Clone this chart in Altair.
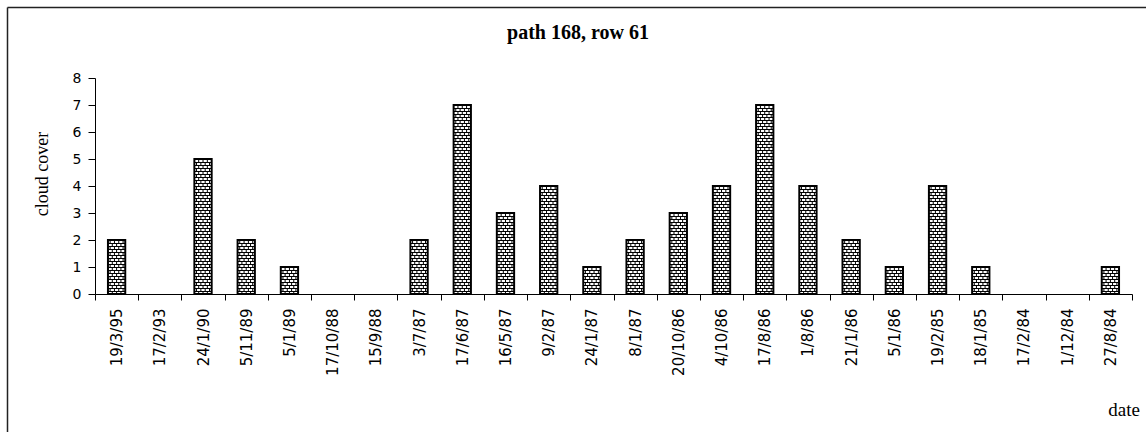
import altair as alt
import pandas as pd

dates = ["19/3/95", "17/2/93", "24/1/90", "5/11/89", "5/1/89", "17/10/88",
         "15/9/88", "3/7/87", "17/6/87", "16/5/87", "9/2/87", "24/1/87",
         "8/1/87", "20/10/86", "4/10/86", "17/8/86", "1/8/86", "21/1/86",
         "5/1/86", "19/2/85", "18/1/85", "17/2/84", "1/12/84", "27/8/84"]
cover = [2, 0, 5, 2, 1, 0, 0, 2, 7, 3, 4, 1, 2, 3, 4, 7, 4, 2, 1, 4, 1, 0, 0, 1]
y_ticks = [0, 1, 2, 3, 4, 5, 6, 7, 8]

title_text = "path 168, row 61"
y_title = "cloud cover"
x_title = "date"

df = pd.DataFrame({"date": dates, "cover": cover})

W, H = 1037, 216
BAR = 0.4            # bar width as a fraction of the category band
ROWS = 9             # brick rows per unit of cloud cover
JOINT = 0.1          # brick length as a fraction of the category band

# brick-pattern texture built from the values (rows and joints inside each bar)
h_rows, v_rows = [], []
for i, v in enumerate(cover):
    left = i + (1 - BAR) / 2
    right = i + (1 + BAR) / 2
    for k in range(v * ROWS):
        y0 = k / ROWS
        y1 = (k + 1) / ROWS
        if k > 0:
            h_rows.append({"x": left, "x2": right, "y": y0})
        off = JOINT / 2 if k % 2 else JOINT
        pos = left + off
        while pos < right - 0.02:
            v_rows.append({"x": pos, "y": y0, "y2": y1})
            pos += JOINT
h_df = pd.DataFrame(h_rows)
v_df = pd.DataFrame(v_rows)

band_scale = alt.Scale(domain=dates, paddingInner=0, paddingOuter=0)
y_scale = alt.Scale(domain=[0, 8], nice=False)
xq = alt.Scale(domain=[0, len(dates)], nice=False, zero=False)

x_axis = alt.Axis(
    title=None, labelAngle=270, tickBand="extent",
    labelFont="DejaVu Sans", labelFontSize=15, labelColor="black",
    labelPadding=8, tickSize=6, tickColor="black", domainColor="black",
    tickWidth=1, domainWidth=1, labelOverlap=False, grid=False,
)
y_axis = alt.Axis(
    title=None, values=y_ticks, format="d",
    labelFont="DejaVu Sans", labelFontSize=14, labelColor="black",
    labelPadding=7, tickSize=7, tickColor="black", domainColor="black",
    tickWidth=1, domainWidth=1, grid=False,
)

nonzero = alt.datum.cover > 0
bars_fill = alt.Chart(df).transform_filter(nonzero).mark_bar(
    width=alt.RelativeBandSize(BAR), fill="white", strokeWidth=0
).encode(
    x=alt.X("date:N", sort=dates, scale=band_scale, axis=x_axis),
    y=alt.Y("cover:Q", scale=y_scale, axis=y_axis),
)

bars_edge = alt.Chart(df).transform_filter(nonzero).mark_bar(
    width=alt.RelativeBandSize(BAR), fill="white", fillOpacity=0,
    stroke="black", strokeWidth=2
).encode(
    x=alt.X("date:N", sort=dates, scale=band_scale, axis=None),
    y=alt.Y("cover:Q", scale=y_scale, axis=None),
)

h_lines = alt.Chart(h_df).mark_rule(color="black", strokeWidth=1, yOffset=0.5).encode(
    x=alt.X("x:Q", scale=xq, axis=None), x2="x2:Q",
    y=alt.Y("y:Q", scale=y_scale, axis=None),
)
v_lines = alt.Chart(v_df).mark_rule(color="black", strokeWidth=1).encode(
    x=alt.X("x:Q", scale=xq, axis=None),
    y=alt.Y("y:Q", scale=y_scale, axis=None), y2="y2:Q",
)

one = pd.DataFrame({"k": [0]})

title_mark = alt.Chart(one).mark_text(
    text=title_text, font="Liberation Serif", fontWeight="bold", fontSize=20,
    align="center", baseline="alphabetic", color="black"
).encode(x=alt.value(483), y=alt.value(-39))

ytitle_mark = alt.Chart(one).mark_text(
    text=y_title, font="Liberation Serif", fontSize=18, angle=270,
    align="center", baseline="middle", color="black"
).encode(x=alt.value(-52), y=alt.value(96))

xtitle_mark = alt.Chart(one).mark_text(
    text=x_title, font="Liberation Serif", fontSize=19,
    align="right", baseline="alphabetic", color="black"
).encode(x=alt.value(1045), y=alt.value(338))

frame_top = alt.Chart(one).mark_rule(color="#222222", strokeWidth=1.5).encode(
    x=alt.value(-87.5), x2=alt.value(1100), y=alt.value(-70.5))
frame_left = alt.Chart(one).mark_rule(color="#222222", strokeWidth=1.5).encode(
    x=alt.value(-87.5), y=alt.value(-70.5), y2=alt.value(400))

chart = alt.layer(
    bars_fill, h_lines, v_lines, bars_edge,
    title_mark, ytitle_mark, xtitle_mark, frame_top, frame_left
).resolve_scale(x="independent", y="independent").properties(
    width=W, height=H,
    padding={"left": 95, "top": 78, "right": 14, "bottom": 138},
    autosize=alt.AutoSizeParams(type="none"),
    background="white",
).configure_view(stroke=None)

chart.save("out.html", embed_options={"renderer": "svg", "actions": False})
